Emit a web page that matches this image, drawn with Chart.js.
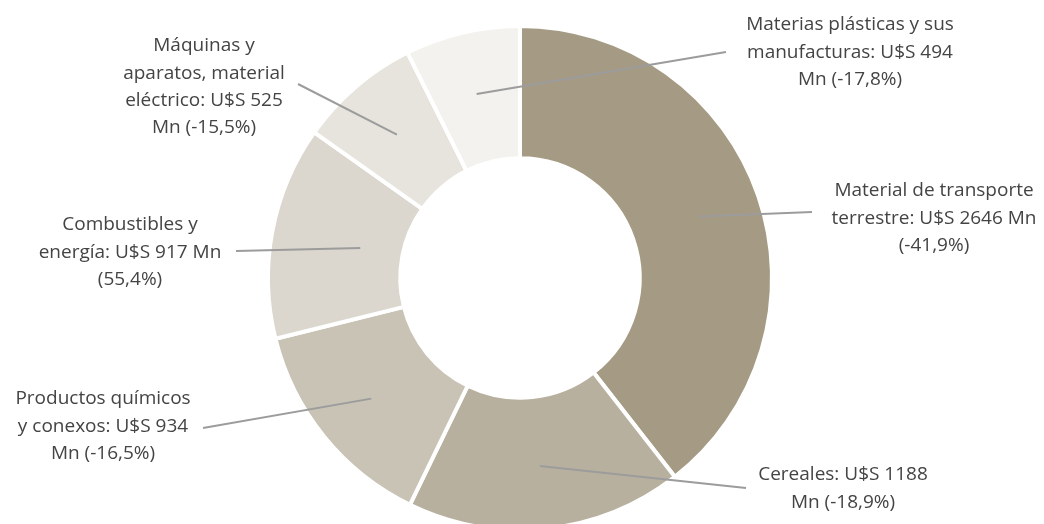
<!DOCTYPE html>
<html>
<head>
<meta charset="utf-8">
<script src="https://cdn.jsdelivr.net/npm/chart.js@4"></script>
<style>
  html, body { margin: 0; padding: 0; background: #fff; overflow: hidden; }
  #wrap { position: relative; width: 1044px; height: 540px; }
</style>
</head>
<body>
<div id="wrap"><canvas id="exportChart"></canvas></div>
<script>
// datos
const categories = [
    "Material de transporte terrestre",
    "Cereales",
    "Productos químicos y conexos",
    "Combustibles y energía",
    "Máquinas y aparatos, material eléctrico",
    "Materias plásticas y sus manufacturas"
];
const values = [2646, 1188, 934, 917, 525, 494];
const changes = ["-41,9%", "-18,9%", "-16,5%", "55,4%", "-15,5%", "-17,8%"];

// etiquetas (texto partido en lineas como en el original)
const labelLines = [
    ["Material de transporte", "terrestre: U$S 2646 Mn", "(-41,9%)"],
    ["Cereales: U$S 1188", "Mn (-18,9%)"],
    ["Productos químicos", "y conexos: U$S 934", "Mn (-16,5%)"],
    ["Combustibles y", "energía: U$S 917 Mn", "(55,4%)"],
    ["Máquinas y", "aparatos, material", "eléctrico: U$S 525", "Mn (-15,5%)"],
    ["Materias plásticas y sus", "manufacturas: U$S 494", "Mn (-17,8%)"]
];

const colors = ["#a59b84", "#b8b09e", "#c9c3b6", "#dbd6ce", "#e7e4dd", "#f3f2ef"];

// posicion de cada etiqueta: centro del texto, primera linea, fin de la guia, y radio de inicio (fraccion del radio exterior)
const labelLayout = [
    { x: 934, y: 191, lx: 812, ly: 212, r: 0.75 },
    { x: 843, y: 475, lx: 746, ly: 488, r: 0.75 },
    { x: 103, y: 399, lx: 203, ly: 428, r: 0.76 },
    { x: 130, y: 225, lx: 236, ly: 251, r: 0.645 },
    { x: 204, y: 46,  lx: 298, ly: 84,  r: 0.75 },
    { x: 850, y: 25,  lx: 726, ly: 52,  r: 0.75 }
];

const leaderPlugin = {
    id: "leaders",
    afterDatasetsDraw(chart) {
        const ctx = chart.ctx;
        const arcs = chart.getDatasetMeta(0).data;
        ctx.save();
        arcs.forEach(function (arc, i) {
            const p = arc.getProps(["x", "y", "startAngle", "endAngle", "outerRadius"], true);
            const mid = (p.startAngle + p.endAngle) / 2;
            const lay = labelLayout[i];
            const rad = p.outerRadius * lay.r;
            const sx = p.x + Math.cos(mid) * rad;
            const sy = p.y + Math.sin(mid) * rad;
            ctx.strokeStyle = "#9c9c9c";
            ctx.lineWidth = 2;
            ctx.beginPath();
            ctx.moveTo(sx, sy);
            ctx.lineTo(lay.lx, lay.ly);
            ctx.stroke();

            ctx.fillStyle = "#444444";
            ctx.font = "19px 'Open Sans', 'Noto Sans', sans-serif";
            ctx.textAlign = "center";
            ctx.textBaseline = "middle";
            labelLines[i].forEach(function (line, k) {
                ctx.fillText(line, lay.x, lay.y + k * 27.3);
            });
        });
        ctx.restore();
    }
};

new Chart(document.getElementById("exportChart"), {
    type: "doughnut",
    data: {
        labels: categories,
        datasets: [{
            data: values,
            backgroundColor: colors,
            borderColor: "#fff",
            borderWidth: 4
        }]
    },
    options: {
        responsive: true,
        maintainAspectRatio: false,
        animation: false,
        cutout: "47.5%",
        layout: { padding: { left: 266, right: 270, top: 24, bottom: 8 } },
        plugins: {
            legend: { display: false },
            tooltip: { enabled: false }
        }
    },
    plugins: [leaderPlugin]
});
</script>
</body>
</html>
